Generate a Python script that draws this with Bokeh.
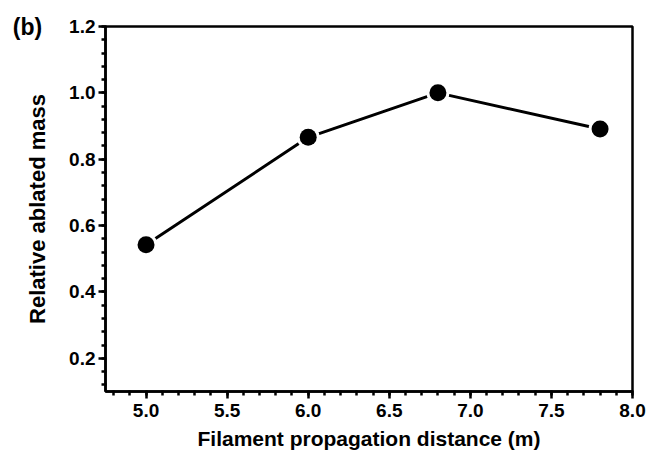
from bokeh.plotting import figure
from bokeh.models import FixedTicker, Label, Range1d
from bokeh.embed import file_html
from bokeh.resources import INLINE

# data
distance = [5.0, 6.0, 6.8, 7.8]
rel_mass = [0.542, 0.866, 1.0, 0.891]

x_ticks = [5.0, 5.5, 6.0, 6.5, 7.0, 7.5, 8.0]
y_ticks = [0.2, 0.4, 0.6, 0.8, 1.0, 1.2]
x_minor = [round(4.8 + 0.1 * i, 2) for i in range(33)]
y_minor = [round(0.12 + 0.04 * i, 2) for i in range(28)]

FONT = "Liberation Sans"

p = figure(width=647, height=460, output_backend="svg", toolbar_location=None,
           x_range=Range1d(4.75, 8.0), y_range=Range1d(0.1, 1.2),
           min_border_left=105, min_border_right=15, min_border_top=25, min_border_bottom=69)

p.grid.visible = False
p.background_fill_color = "white"
p.border_fill_color = "white"
p.outline_line_color = "black"
p.outline_line_width = 2.5

p.line(distance, rel_mass, line_color="black", line_width=3)
p.scatter(distance, rel_mass, size=23, fill_color="white", line_color=None)
p.scatter(distance, rel_mass, size=17, fill_color="black", line_color=None)

p.xaxis.ticker = FixedTicker(ticks=x_ticks, minor_ticks=x_minor)
p.yaxis.ticker = FixedTicker(ticks=y_ticks, minor_ticks=y_minor)
p.xaxis.major_label_overrides = {t: f"{t:.1f}" for t in x_ticks}
p.yaxis.major_label_overrides = {t: f"{t:.1f}" for t in y_ticks}

for ax in (p.xaxis[0], p.yaxis[0]):
    ax.axis_line_color = "black"
    ax.axis_line_width = 2.5
    ax.major_tick_line_color = "black"
    ax.major_tick_line_width = 2.5
    ax.minor_tick_line_color = "black"
    ax.minor_tick_line_width = 2.5
    ax.major_tick_in = 0
    ax.major_tick_out = 7
    ax.minor_tick_in = 1
    ax.minor_tick_out = 4
    ax.major_label_text_font = FONT
    ax.major_label_text_font_style = "bold"
    ax.major_label_text_font_size = "19px"
    ax.major_label_text_color = "black"
    ax.axis_label_text_font = FONT
    ax.axis_label_text_font_style = "bold"
    ax.axis_label_text_color = "black"

p.xaxis.axis_label = "Filament propagation distance (m)"
p.yaxis.axis_label = "Relative ablated mass"
p.xaxis.axis_label_text_font_size = "21px"
p.yaxis.axis_label_text_font_size = "22px"
p.xaxis.major_label_standoff = 5
p.yaxis.major_label_standoff = 3
p.xaxis.axis_label_standoff = 7
p.yaxis.axis_label_standoff = 16

panel_label = Label(x=-78, y=0, x_units="screen", y_units="screen", text="(b)",
                    text_font=FONT, text_font_style="bold",
                    text_font_size="23px", text_align="center", text_baseline="middle",
                    text_color="black")
p.add_layout(panel_label, "above")

open("out.html", "w").write(file_html(p, INLINE))
